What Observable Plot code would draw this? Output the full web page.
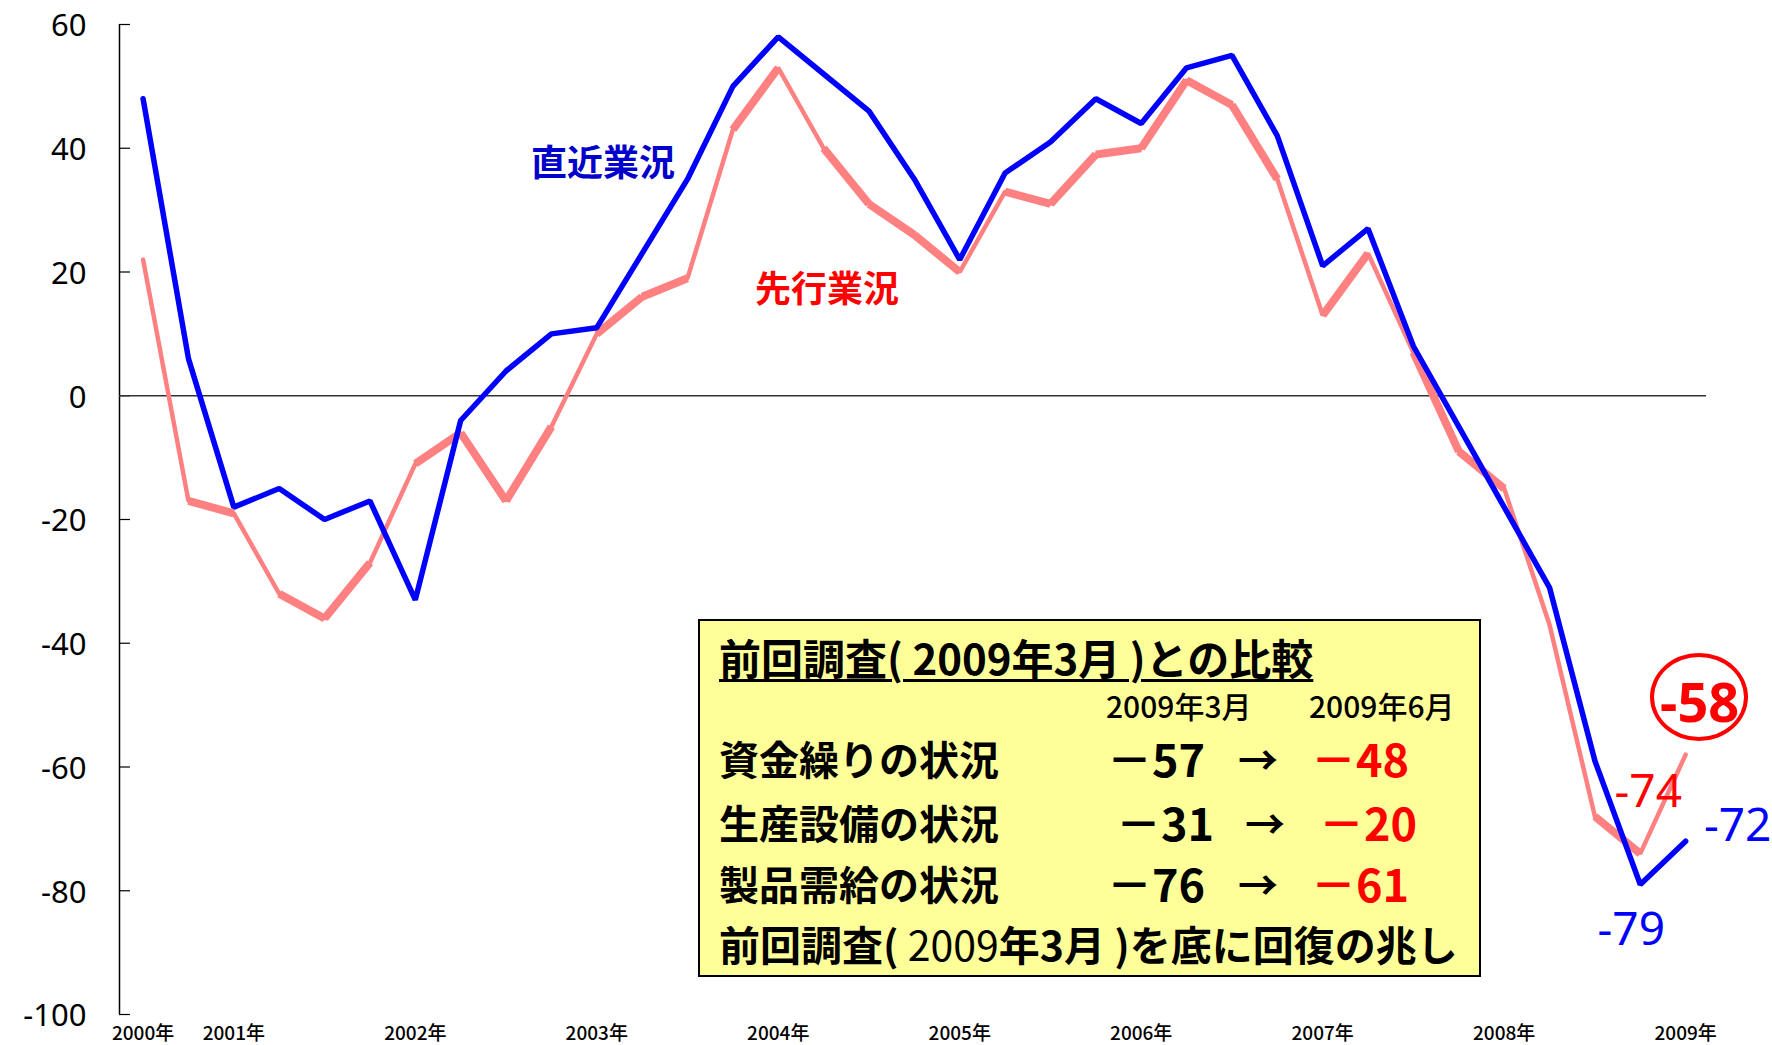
<!DOCTYPE html>
<html><head><meta charset="utf-8">
<script src="https://cdn.jsdelivr.net/npm/d3@7"></script>
<script src="https://cdn.jsdelivr.net/npm/@observablehq/plot@0.6"></script>
<style>
body{margin:0;background:#fff;}
#wrap{position:relative;width:1772px;height:1045px;overflow:hidden;font-family:"Noto Sans CJK JP","Noto Sans",sans-serif;}
.abs{position:absolute;white-space:nowrap;line-height:1;}
</style></head><body><div id="wrap"></div>
<script>
// quarterly survey dates (x categories)
const quarters = ["2000/12","2001/03","2001/06","2001/09","2001/12","2002/03","2002/06","2002/09","2002/12","2003/03","2003/06","2003/09","2003/12","2004/03","2004/06","2004/09","2004/12","2005/03","2005/06","2005/09","2005/12","2006/03","2006/06","2006/09","2006/12","2007/03","2007/06","2007/09","2007/12","2008/03","2008/06","2008/09","2008/12","2009/03","2009/06"];
// 直近業況 (current business conditions)
const current = [48,6,-18,-15,-20,-17,-33,-4,4,10,11,23,35,50,58,52,46,35,22,36,41,48,44,53,55,42,21,27,8,-5,-18,-31,-59,-79,-72];
// 先行業況 (outlook)
const outlook = [22,-17,-19,-32,-36,-27,-11,-6,-17,-5,10,16,19,43,53,40,31,26,20,33,31,39,40,51,47,35,13,23,7,-9,-15,-37,-68,-74,-58];
// segments of the outlook line that the original draws heavier (start quarter)
const outlookHeavySegments = ["2001/03","2001/09","2001/12","2002/06","2002/09","2002/12","2003/06","2003/09","2004/03","2004/09","2004/12","2005/03","2005/09","2005/12","2006/03","2006/06","2006/09","2006/12","2007/06","2007/12","2008/03","2008/12"];
// x tick labels
const yearTickQuarters = ["2000/12","2001/06","2002/06","2003/06","2004/06","2005/06","2006/06","2007/06","2008/06","2009/06"];
const yearTickLabels = ["2000年","2001年","2002年","2003年","2004年","2005年","2006年","2007年","2008年","2009年"];
const yTicks = [60,40,20,0,-20,-40,-60,-80,-100];
// comparison box
const boxTitle = "前回調査( 2009年3月 )との比較";
const boxCols = ["2009年3月","2009年6月"];
const boxRows = ["資金繰りの状況","生産設備の状況","製品需給の状況"];
const boxMarch = [-57,-31,-76];
const boxJune = [-48,-20,-61];
const boxFooter = ["前回調査( ","2009","年3月 )を底に回復の兆し"];
const seriesNames = ["直近業況","先行業況"];

const W = 1772, H = 1045;
const mL = 119, mR = 66, mT = 24, mB = 31;
const xDomain = [-0.52, 34.46];
const yDomain = [-100, 60];
const qi = q => quarters.indexOf(q);

const cur = current.map((v,i)=>({i, v}));
const out = outlook.map((v,i)=>({i, v}));
const last = quarters.length - 1;
const heavy = outlookHeavySegments.map(qi);
const tickIdx = yearTickQuarters.map(qi);

const plot = Plot.plot({
  width: W, height: H,
  marginLeft: mL, marginRight: mR, marginTop: mT, marginBottom: mB,
  style: {fontFamily: '"Noto Sans CJK JP","Noto Sans",sans-serif', background: "#fff", color: "#000"},
  x: {type: "linear", domain: xDomain, axis: null},
  y: {domain: yDomain, axis: null},
  marks: [
    Plot.ruleY(yTicks, {stroke: "#000", strokeWidth: 1.2, insetRight: (W - mL - mR) - 11}),
    Plot.ruleX([xDomain[0]], {y1: yDomain[0], y2: yDomain[1], stroke: "#000", strokeWidth: 1.5}),
    Plot.ruleY([0], {stroke: "#333", strokeWidth: 1.4}),
    Plot.axisY({ticks: yTicks, tickSize: 0, tickPadding: 33, fontSize: 31, dy: 2,
      fontFamily: '"Noto Sans",sans-serif',
      tickFormat: d => String(d), label: null}),
    Plot.axisX({ticks: tickIdx, tickSize: 0, tickPadding: 12, fontSize: 19, fontWeight: 500,
      tickFormat: d => yearTickLabels[tickIdx.indexOf(d)], label: null}),
    Plot.line(out, {x: "i", y: "v", stroke: "#FF8080", strokeWidth: 4.5, strokeLinejoin: "miter"}),
    Plot.link(heavy, {x1: d => d, y1: d => outlook[d], x2: d => d + 1, y2: d => outlook[d + 1],
      stroke: "#FF8080", strokeWidth: 8, strokeLinecap: "butt"}),
    Plot.line(cur, {x: "i", y: "v", stroke: "#0000FF", strokeWidth: 5.5, strokeLinejoin: "miter"}),
    Plot.text([last - 1], {x: d => d, y: d => outlook[d], text: d => String(outlook[d]), dx: 8, dy: -61,
      fill: "#FF0000", fontSize: 46, fontFamily: '"Noto Sans",sans-serif'}),
    Plot.text([last], {x: d => d, y: d => outlook[d], text: d => String(outlook[d]), dx: 14, dy: -50,
      fill: "#FF0000", fontSize: 54, fontWeight: 700, fontFamily: '"Noto Sans",sans-serif'}),
    Plot.text([last - 1], {x: d => d, y: d => current[d], text: d => String(current[d]), dx: -9, dy: 46,
      fill: "#0000FF", fontSize: 46, fontFamily: '"Noto Sans",sans-serif'}),
    Plot.text([last], {x: d => d, y: d => current[d], text: d => String(current[d]), dx: 52, dy: -15,
      fill: "#0000FF", fontSize: 46, fontFamily: '"Noto Sans",sans-serif'})
  ]
});

const wrap = document.getElementById("wrap");
wrap.appendChild(plot);

function addDiv(html, style, cls="abs") {
  const d = document.createElement("div");
  d.className = cls;
  d.innerHTML = html;
  Object.assign(d.style, style);
  wrap.appendChild(d);
  return d;
}
const fmt = v => "－" + Math.abs(v);

// series labels
addDiv(seriesNames[0], {left: "531px", top: "142px", fontSize: "36px", fontWeight: "700", color: "#0000CC"});
addDiv(seriesNames[1], {left: "755px", top: "268px", fontSize: "36px", fontWeight: "700", color: "#FF0000"});

// ellipse around latest outlook
addDiv("", {left: "1650px", top: "653px", width: "98px", height: "88px", boxSizing: "border-box", border: "4px solid #FF0000", borderRadius: "50%"});

// comparison box
addDiv("", {left: "698px", top: "619px", width: "783px", height: "358px", boxSizing: "border-box", background: "#FFFF99", border: "2px solid #000"});
addDiv(boxTitle, {left: "719px", top: "636px", fontSize: "42px", fontWeight: "700", textDecoration: "underline", textDecorationThickness: "3px", textUnderlineOffset: "4px"});
addDiv(boxCols[0], {left: "1106px", top: "690px", fontSize: "30px", fontWeight: "500"});
addDiv(boxCols[1], {left: "1309px", top: "690px", fontSize: "30px", fontWeight: "500"});
const rowCy = [760, 824, 885];
const marchX = [1107, 1116, 1107], arrowX = [1238, 1245, 1238], juneX = [1311, 1319, 1311];
boxRows.forEach((r, k) => {
  addDiv(r, {left: "719px", top: (rowCy[k] - 22) + "px", fontSize: "40px", fontWeight: "700"});
  addDiv(fmt(boxMarch[k]), {left: marchX[k] + "px", top: (rowCy[k] - 25) + "px", fontSize: "45px", fontWeight: "700"});
  addDiv("→", {left: arrowX[k] + "px", top: (rowCy[k] - 22) + "px", fontSize: "40px", fontWeight: "700"});
  addDiv(fmt(boxJune[k]), {left: juneX[k] + "px", top: (rowCy[k] - 25) + "px", fontSize: "45px", fontWeight: "700", color: "#FF0000"});
});
addDiv(boxFooter[0] + '<span style="font-weight:400">' + boxFooter[1] + '</span>' + boxFooter[2], {left: "719px", top: "923px", fontSize: "41px", fontWeight: "700"});
</script>
</body></html>
